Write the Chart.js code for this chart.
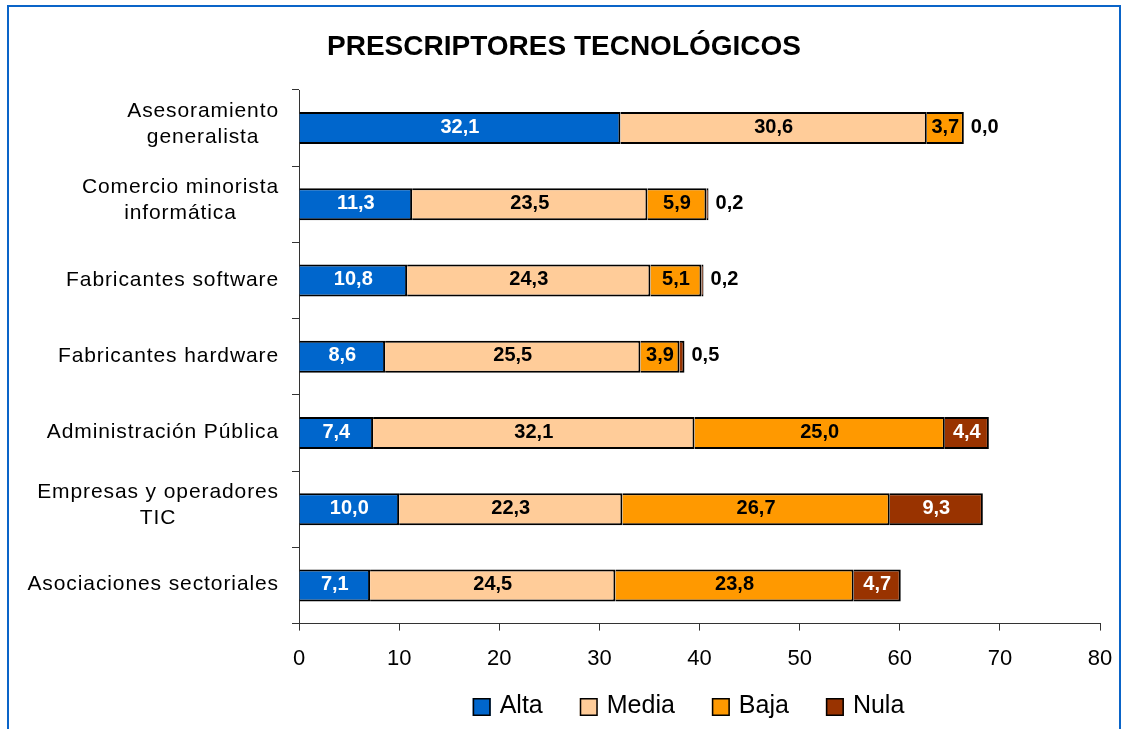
<!DOCTYPE html>
<html>
<head>
<meta charset="utf-8">
<title>Prescriptores tecnológicos</title>
<script src="https://cdn.jsdelivr.net/npm/chart.js@4.4.1/dist/chart.umd.min.js"></script>
<style>
  html, body { margin: 0; padding: 0; background: #ffffff; }
  #wrap { position: relative; width: 1122px; height: 729px; overflow: hidden; }
  canvas { position: absolute; left: 0; top: 0; }
</style>
</head>
<body>
<div id="wrap"><canvas id="chart" width="1122" height="729"></canvas></div>
<script>
// ---- data ----
const categories = [
  ['Asesoramiento', 'generalista'],
  ['Comercio minorista', 'informática'],
  ['Fabricantes software'],
  ['Fabricantes hardware'],
  ['Administración Pública'],
  ['Empresas y operadores', 'TIC'],
  ['Asociaciones sectoriales']
];
const seriesNames = ['Alta', 'Media', 'Baja', 'Nula'];
const alta  = [32.1, 11.3, 10.8, 8.6, 7.4, 10.0, 7.1];
const media = [30.6, 23.5, 24.3, 25.5, 32.1, 22.3, 24.5];
const baja  = [3.7, 5.9, 5.1, 3.9, 25.0, 26.7, 23.8];
const nula  = [0.0, 0.2, 0.2, 0.5, 4.4, 9.3, 4.7];
const xTickValues = [0, 10, 20, 30, 40, 50, 60, 70, 80];
const chartTitle = 'PRESCRIPTORES TECNOLÓGICOS';

// ---- styling ----
const FONT = '"Liberation Sans", Arial, Helvetica, sans-serif';
const fillColors  = ['#0066cc', '#ffcc99', '#ff9900', '#993300'];
const valueColors = ['#ffffff', '#000000', '#000000', '#ffffff'];
const AXIS_COLOR = '#333333';

Chart.defaults.font.family = FONT;
Chart.defaults.color = '#000000';

const series = [alta, media, baja, nula];

// Outer blue frame and the centred title
const framePlugin = {
  id: 'frameAndTitle',
  beforeDraw(chart) {
    const ctx = chart.ctx;
    ctx.save();
    ctx.fillStyle = '#ffffff';
    ctx.fillRect(0, 0, chart.width, chart.height);
    ctx.strokeStyle = '#0a64c8';
    ctx.lineWidth = 2;
    ctx.strokeRect(8, 6, 1112, 760);
    ctx.fillStyle = '#000000';
    ctx.font = 'bold 28px ' + FONT;
    ctx.textAlign = 'center';
    ctx.textBaseline = 'middle';
    ctx.fillText(chartTitle, 564, 47.5);
    ctx.restore();
  }
};

// Category names: lines centred on each other, block right-aligned to the axis
const categoryLabelPlugin = {
  id: 'categoryLabels',
  afterDraw(chart) {
    const ctx = chart.ctx;
    const yScale = chart.scales.y;
    const right = chart.chartArea.left - 20;
    const lineGap = 26;
    ctx.save();
    ctx.font = '21px ' + FONT;
    if ('letterSpacing' in ctx) ctx.letterSpacing = '0.9px';
    ctx.fillStyle = '#000000';
    ctx.textAlign = 'center';
    ctx.textBaseline = 'alphabetic';
    chart.data.labels.forEach((lines, i) => {
      const yc = yScale.getPixelForValue(i);
      const n = lines.length;
      const maxW = Math.max(...lines.map(l => ctx.measureText(l).width));
      const cx = right - maxW / 2;
      lines.forEach((line, k) => {
        const base = yc + 5 - (n - 1) * 3 + (k - (n - 1) / 2) * lineGap;
        ctx.fillText(line, cx, base);
      });
    });
    ctx.restore();
  }
};

// Value labels inside each segment; tiny segments get theirs just past the bar end
const valueLabelPlugin = {
  id: 'valueLabels',
  afterDatasetsDraw(chart) {
    const ctx = chart.ctx;
    ctx.save();
    ctx.font = 'bold 20px ' + FONT;
    ctx.textBaseline = 'middle';
    chart.data.datasets.forEach((ds, di) => {
      const meta = chart.getDatasetMeta(di);
      meta.data.forEach((bar, i) => {
        const v = ds.data[i];
        const text = v.toFixed(1).replace('.', ',');
        const p = bar.getProps(['x', 'y', 'base'], true);
        if (v < 1) {
          ctx.textAlign = 'left';
          ctx.fillStyle = '#000000';
          ctx.fillText(text, p.x + 7, p.y - 1);
        } else {
          ctx.textAlign = 'center';
          ctx.fillStyle = valueColors[di];
          ctx.fillText(text, (p.x + p.base) / 2, p.y - 1);
        }
      });
    });
    ctx.restore();
  }
};

// Legend row under the x axis
const legendPlugin = {
  id: 'bottomLegend',
  afterDraw(chart) {
    const ctx = chart.ctx;
    const box = 18, boxGap = 9, itemGap = 37;
    const y = 707;
    ctx.save();
    ctx.font = '25px ' + FONT;
    const widths = chart.data.datasets.map(ds => box + boxGap + ctx.measureText(ds.label).width);
    const total = widths.reduce((a, b) => a + b, 0) + itemGap * (widths.length - 1);
    const centre = (chart.chartArea.left + chart.chartArea.right) / 2 - 11;
    let x = centre - total / 2;
    chart.data.datasets.forEach((ds, i) => {
      ctx.fillStyle = ds.backgroundColor;
      ctx.fillRect(x, y - box / 2, box, box);
      ctx.strokeStyle = '#000000';
      ctx.lineWidth = 1.5;
      ctx.strokeRect(x + 0.75, y - box / 2 + 0.75, box - 1.5, box - 1.5);
      ctx.fillStyle = '#000000';
      ctx.textAlign = 'left';
      ctx.textBaseline = 'middle';
      ctx.fillText(ds.label, x + box + boxGap, y - 1);
      x += widths[i] + itemGap;
    });
    ctx.restore();
  }
};

new Chart(document.getElementById('chart'), {
  type: 'bar',
  data: {
    labels: categories,
    datasets: seriesNames.map((name, i) => ({
      label: name,
      data: series[i],
      backgroundColor: fillColors[i],
      borderColor: '#000000',
      borderWidth: 2,
      barPercentage: 0.42,
      categoryPercentage: 1.0
    }))
  },
  options: {
    indexAxis: 'y',
    responsive: false,
    animation: false,
    devicePixelRatio: 1,
    layout: { padding: { top: 90, right: 22, bottom: 42, left: 0 } },
    plugins: {
      legend: { display: false },
      title: { display: false },
      tooltip: { enabled: false }
    },
    scales: {
      x: {
        stacked: true,
        min: 0,
        max: 80,
        afterBuildTicks(scale) {
          scale.ticks = xTickValues.map(v => ({ value: v }));
        },
        afterFit(scale) { scale.paddingRight = 0; },
        ticks: {
          font: { size: 22 },
          color: '#000000',
          padding: 15,
          maxRotation: 0,
          callback: v => String(v)
        },
        grid: {
          display: true,
          drawOnChartArea: false,
          drawTicks: true,
          tickLength: 7,
          color: AXIS_COLOR,
          lineWidth: 1
        },
        border: { display: true, color: AXIS_COLOR, width: 1 }
      },
      y: {
        stacked: true,
        z: 1,
        ticks: { display: false },
        afterFit(scale) { scale.width = 299; },
        grid: {
          display: true,
          offset: true,
          drawOnChartArea: false,
          drawTicks: true,
          tickLength: 7,
          color: AXIS_COLOR,
          lineWidth: 1
        },
        border: { display: true, color: AXIS_COLOR, width: 1 }
      }
    }
  },
  plugins: [framePlugin, valueLabelPlugin, categoryLabelPlugin, legendPlugin]
});
</script>
</body>
</html>
